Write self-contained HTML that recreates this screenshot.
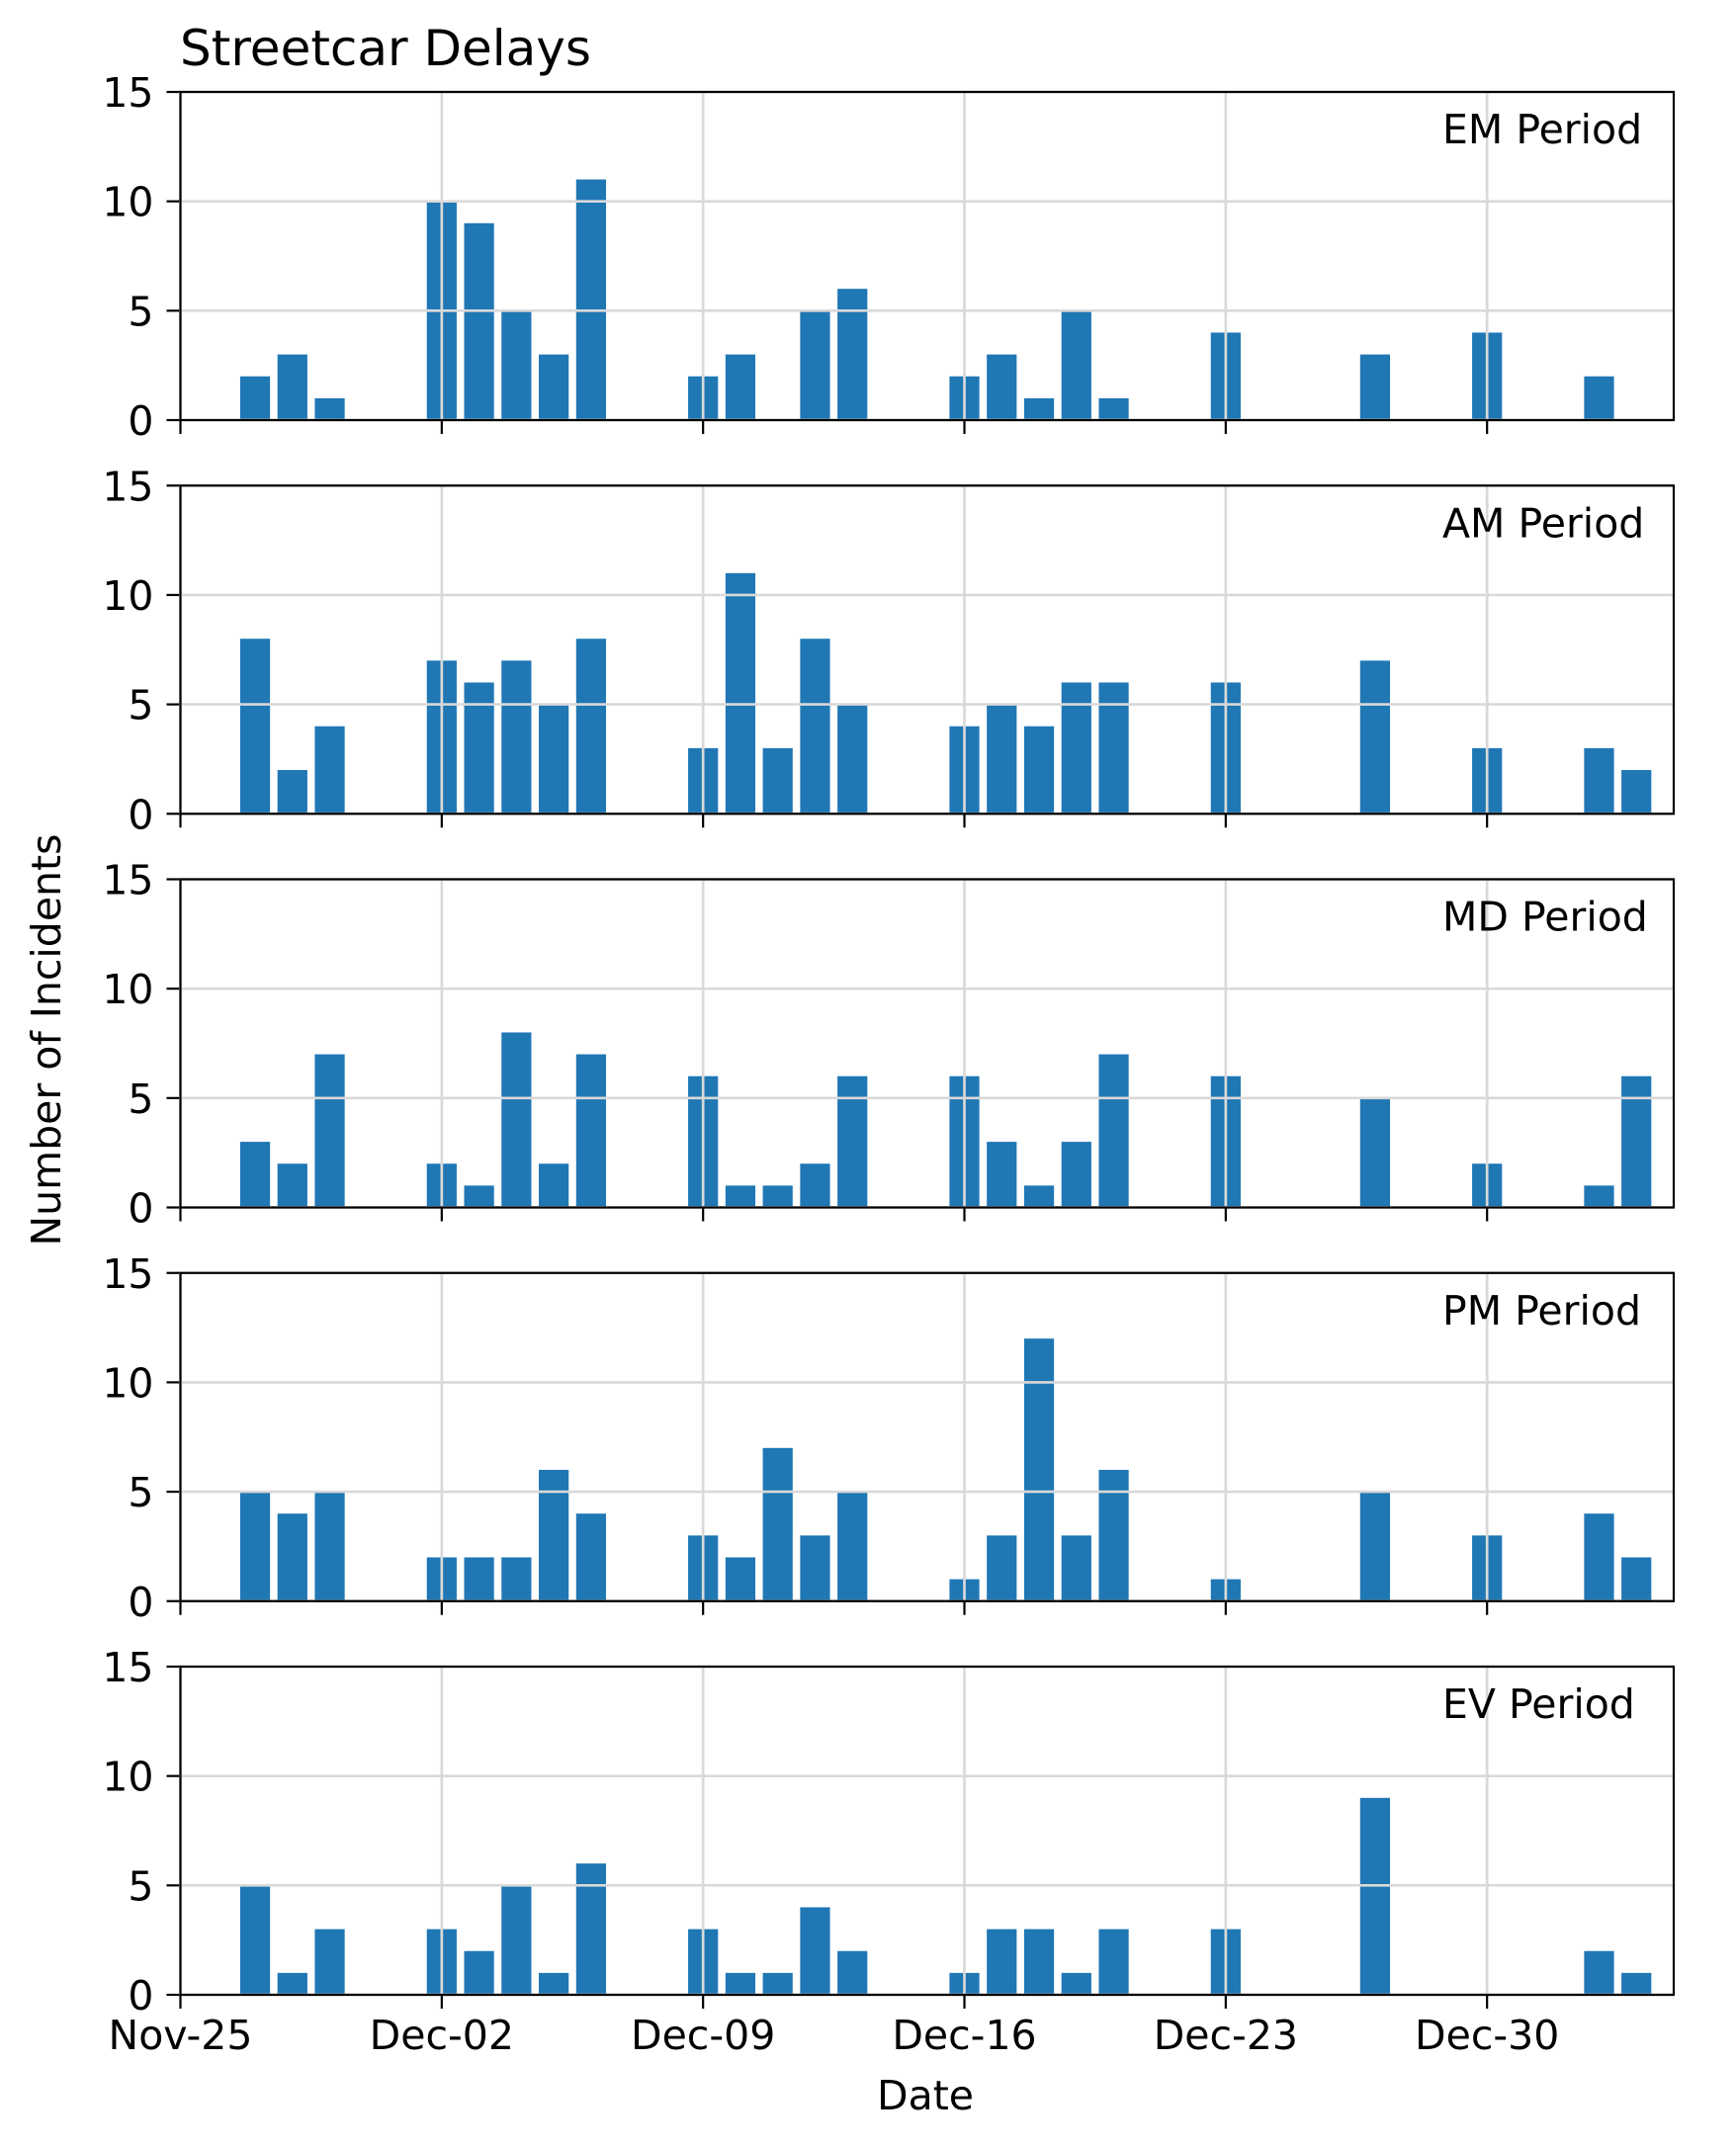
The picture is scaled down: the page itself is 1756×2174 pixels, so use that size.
<!DOCTYPE html>
<html><head><meta charset="utf-8"><style>
body{margin:0;background:#fff}
svg{display:block;font-family:"DejaVu Sans","Liberation Sans",sans-serif}
</style></head><body>
<svg id="chart" width="1756" height="2174" xmlns="http://www.w3.org/2000/svg">
<text x="182" y="66" font-size="50" fill="#000">Streetcar Delays</text>
<text x="936" y="2134" font-size="41" text-anchor="middle">Date</text>
<text transform="translate(61,1052) rotate(-90)" font-size="41" text-anchor="middle">Number of Incidents</text>
</svg>
<script>
const dayOffsets=[2,3,4,7,8,9,10,11,14,15,16,17,18,21,22,23,24,25,28,32,35,38,39];
const periods=["EM Period","AM Period","MD Period","PM Period","EV Period"];
const emValues=[2,3,1,10,9,5,3,11,2,3,0,5,6,2,3,1,5,1,4,3,4,2,0];
const amValues=[8,2,4,7,6,7,5,8,3,11,3,8,5,4,5,4,6,6,6,7,3,3,2];
const mdValues=[3,2,7,2,1,8,2,7,6,1,1,2,6,6,3,1,3,7,6,5,2,1,6];
const pmValues=[5,4,5,2,2,2,6,4,3,2,7,3,5,1,3,12,3,6,1,5,3,4,2];
const evValues=[5,1,3,3,2,5,1,6,3,1,1,4,2,1,3,3,1,3,3,9,0,2,1];
const yTicks=[0,5,10,15];
const xTickOffsets=[0,7,14,21,28,35];
const xTickLabels=["Nov-25","Dec-02","Dec-09","Dec-16","Dec-23","Dec-30"];
const series=[emValues,amValues,mdValues,pmValues,evValues];

const NS="http://www.w3.org/2000/svg";
const svg=document.getElementById('chart');
const L=182.5,R=1693,DAYS=40,PH=332,STRIDE=398.25,TOP0=93,YMAX=15;
const xs=d=>L+d*(R-L)/DAYS;
function mk(tag,attrs,parent){const e=document.createElementNS(NS,tag);for(const k in attrs)e.setAttribute(k,attrs[k]);(parent||svg).appendChild(e);return e;}
series.forEach((vals,p)=>{
  const top=TOP0+p*STRIDE,bot=top+PH;
  const ys=v=>bot-v*PH/YMAX;
  const g=mk('g',{});
  
  
  const bw=0.8*(R-L)/DAYS;
  vals.forEach((v,i)=>{
    if(v<=0)return;
    const r=mk('rect',{x:xs(dayOffsets[i])-bw/2,y:ys(v),width:bw,height:bot-ys(v),fill:'#1f77b4'},g);
    
    
  });
  yTicks.forEach(t=>{
    const l=mk('line',{x1:L,x2:R,y1:ys(t),y2:ys(t),stroke:'#d9d9d9','stroke-width':2.7},g);
    
    
    mk('line',{x1:L-14,x2:L,y1:ys(t),y2:ys(t),stroke:'#000','stroke-width':2.2},g);
    const tx=mk('text',{x:L-27,y:ys(t)+15,'font-size':41,'text-anchor':'end'},g);
    tx.textContent=t;
    
    
  });
  xTickOffsets.forEach((d,i)=>{
    const l=mk('line',{x1:xs(d),x2:xs(d),y1:top,y2:bot,stroke:'#d9d9d9','stroke-width':2.7},g);
    
    
    mk('line',{x1:xs(d),x2:xs(d),y1:bot,y2:bot+14,stroke:'#000','stroke-width':2.2},g);
    if(p===4){
      const tx=mk('text',{x:xs(d),y:bot+55,'font-size':41,'text-anchor':'middle'},g);
      tx.textContent=xTickLabels[i];
      
      
    }
  });
  mk('rect',{x:L,y:top,width:R-L,height:PH,fill:'none',stroke:'#000','stroke-width':2.2},g);
  const lab=mk('text',{x:1459,y:top+52,'font-size':41},g);
  lab.textContent=periods[p];
  
  
});
</script>
</body></html>
